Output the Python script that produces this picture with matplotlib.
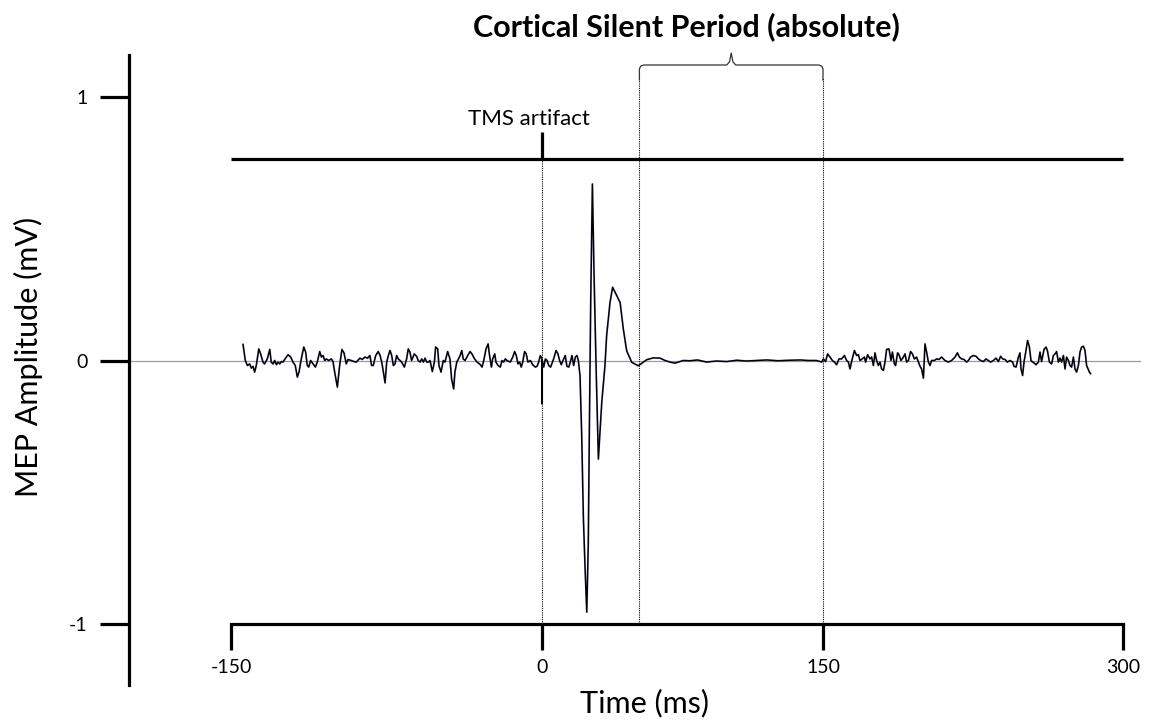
import numpy as np
import matplotlib
matplotlib.use("Agg")
import matplotlib.pyplot as plt
from matplotlib.ticker import NullLocator

plt.rcParams['font.family'] = ['Lato', 'DejaVu Sans']

# ---------------- data (time in ms, amplitude in mV) ----------------
x_ticks = [-150, 0, 150, 300]
x_tick_labels = ["-150", "0", "150", "300"]
y_ticks = [-1, 0, 1]
y_tick_labels = ["-1", "0", "1"]

tms_time = 0.0          # TMS pulse
csp_start = 52.0        # end of MEP / start of silent period
csp_end = 150.0         # return of EMG activity

pre_stim = [
    (-144.2, 0.061), (-143.1, 0.000), (-142.1, -0.019), (-141.0, -0.013), (-140.2, -0.029),
    (-139.4, -0.022), (-138.6, -0.044), (-137.8, -0.019), (-136.6, 0.044), (-135.7, 0.025),
    (-134.6, -0.006), (-133.8, -0.013), (-132.5, 0.006), (-131.3, 0.042), (-130.6, -0.006),
    (-129.7, -0.013), (-128.9, 0.000), (-128.1, -0.016), (-127.3, -0.006), (-126.5, -0.013),
    (-125.7, -0.004), (-124.9, -0.006), (-124.1, 0.004), (-122.5, 0.022), (-121.2, 0.013),
    (-120.1, -0.006), (-119.0, -0.019), (-118.0, -0.063), (-117.2, -0.044), (-116.1, 0.006),
    (-114.9, 0.051), (-114.0, 0.032), (-113.2, -0.019), (-112.5, -0.025), (-111.6, 0.000),
    (-110.4, -0.013), (-109.3, -0.025), (-108.4, -0.006), (-107.2, 0.034), (-106.4, 0.013),
    (-105.6, 0.019), (-104.8, 0.000), (-104.0, 0.006), (-102.9, 0.000), (-101.6, 0.006),
    (-100.8, -0.004), (-100.0, -0.044), (-98.7, -0.101), (-97.6, -0.019), (-96.5, 0.042),
    (-95.5, 0.029), (-94.4, -0.013), (-93.6, 0.004), (-92.0, 0.000), (-90.7, -0.004),
    (-89.6, -0.006), (-88.9, 0.000), (-87.8, 0.009), (-86.7, 0.004), (-85.4, 0.013),
    (-84.1, 0.009), (-83.0, 0.019), (-82.2, -0.019), (-81.4, -0.019), (-80.2, 0.019),
    (-79.0, 0.034), (-78.1, 0.019), (-77.3, -0.006), (-76.5, -0.044), (-75.7, -0.085),
    (-74.9, -0.006), (-74.1, 0.019), (-73.3, 0.038), (-72.5, 0.019), (-71.7, -0.019),
    (-70.9, -0.013), (-70.1, 0.019), (-69.3, 0.006), (-67.7, -0.006), (-66.4, -0.025),
    (-65.3, 0.006), (-64.5, 0.044), (-63.7, 0.032), (-62.9, 0.000), (-61.6, 0.025),
    (-60.5, 0.016), (-59.7, 0.000), (-58.8, -0.006), (-58.0, 0.006), (-57.2, -0.006),
    (-56.4, 0.009), (-55.6, -0.006), (-54.8, -0.006), (-54.0, 0.000), (-52.9, -0.042),
    (-51.9, -0.006), (-51.3, 0.051), (-50.3, 0.044), (-49.7, -0.019), (-48.7, -0.044),
    (-47.6, 0.000), (-46.8, -0.006), (-45.5, 0.034), (-44.4, 0.006), (-43.6, -0.070),
    (-42.6, -0.108), (-42.0, -0.044), (-41.1, -0.006), (-40.4, 0.004), (-39.5, 0.019),
    (-38.7, 0.038), (-38.0, 0.006), (-37.1, 0.000), (-35.8, 0.019), (-34.7, 0.034),
    (-33.8, 0.025), (-32.5, 0.006), (-31.3, -0.006), (-29.7, -0.016), (-28.9, -0.025),
    (-28.1, 0.000), (-27.0, 0.044), (-26.0, 0.063), (-25.4, 0.025), (-24.4, -0.025),
    (-23.8, 0.006), (-22.8, 0.025), (-22.2, -0.006), (-21.2, -0.019), (-20.1, -0.025),
    (-19.3, 0.000), (-18.5, -0.006), (-17.7, 0.006), (-16.9, 0.000), (-15.3, -0.006),
    (-14.1, 0.013), (-13.2, 0.034), (-12.4, 0.019), (-11.6, -0.013), (-10.8, -0.006),
    (-10.0, -0.025), (-9.3, -0.006), (-8.4, 0.034), (-7.6, 0.025), (-6.8, -0.006),
    (-5.6, 0.000), (-4.5, -0.016), (-3.2, -0.025), (-2.4, -0.022), (-1.6, -0.006),
    (-0.8, 0.019), (0.0, 0.006),
]

artifact = [(0.0, -0.165), (0.1, 0.000)]

early_post = [
    (0.9, -0.025), (1.8, 0.006), (2.7, 0.000), (3.6, -0.019), (4.6, -0.025), (6.2, 0.006),
    (7.5, 0.038), (8.5, 0.025), (9.4, 0.000), (10.3, -0.016), (11.2, 0.000), (12.4, 0.019),
    (13.3, -0.022), (14.3, -0.025), (15.1, -0.006), (16.0, 0.019), (16.9, -0.019),
    (17.8, 0.013), (18.7, 0.019), (19.4, 0.000),
]

mep = [
    (20.3, -0.058), (21.2, -0.285), (22.1, -0.60), (23.0, -0.79), (23.9, -0.955),
    (24.7, -0.70), (25.3, -0.25), (26.0, 0.22), (26.9, 0.67), (27.8, 0.32), (28.9, -0.032),
    (30.1, -0.374), (31.9, -0.159), (33.6, -0.02), (34.5, 0.094), (36.3, 0.22),
    (37.7, 0.278), (39.9, 0.246), (41.7, 0.22), (43.4, 0.12), (45.2, 0.037),
    (47.9, -0.007), (51.4, -0.02),
]

silent = [
    (55.9, 0.003), (59.4, 0.010), (63.0, 0.009), (65.7, 0.000), (68.3, -0.006),
    (71.0, -0.010), (72.8, -0.006), (75.4, 0.000), (79.0, -0.001), (83.0, 0.002),
    (87.9, -0.006), (93.0, -0.002), (98.6, -0.004), (104.0, 0.001), (109.0, -0.002),
    (114.6, 0.000), (120.0, 0.002), (126.0, -0.001), (132.4, 0.001), (138.0, 0.002),
    (142.0, 0.000), (146.6, 0.000), (149.3, -0.006),
]

post_stim = [
    (150.2, 0.006), (151.3, -0.004), (152.3, 0.025), (153.5, 0.013), (154.7, 0.000),
    (155.7, -0.006), (156.8, -0.016), (158.0, 0.006), (159.3, 0.006), (160.7, 0.019),
    (161.8, 0.000), (162.7, -0.006), (163.5, -0.032), (164.3, -0.004), (165.7, 0.038),
    (166.8, 0.019), (167.7, 0.022), (168.5, 0.000), (169.3, 0.004), (170.7, 0.013),
    (171.3, -0.006), (172.3, 0.022), (173.5, 0.006), (174.3, 0.013), (175.2, -0.019),
    (176.0, 0.029), (176.8, 0.000), (177.7, -0.019), (178.5, -0.006), (179.3, -0.032),
    (180.2, -0.038), (181.0, -0.006), (181.8, 0.042), (183.0, 0.044), (184.0, 0.000),
    (184.7, 0.032), (185.7, -0.013), (186.3, -0.019), (187.3, 0.029), (188.0, 0.022),
    (189.0, 0.000), (190.2, 0.013), (191.0, 0.025), (191.8, -0.006), (192.7, 0.000),
    (193.8, 0.034), (194.7, 0.025), (195.7, 0.006), (196.8, 0.013), (197.7, -0.006),
    (198.5, -0.022), (199.3, -0.032), (200.2, -0.067), (201.0, 0.063), (201.8, 0.032),
    (202.7, -0.006), (203.5, -0.019), (204.3, 0.000), (205.7, 0.000), (206.8, 0.006),
    (208.0, 0.004), (209.3, 0.013), (211.0, 0.000), (212.7, -0.006), (214.3, 0.000),
    (216.0, 0.013), (217.2, 0.029), (218.2, 0.013), (219.3, 0.006), (220.5, 0.004),
    (221.8, -0.006), (222.7, 0.000), (223.8, 0.013), (225.2, 0.019), (226.5, 0.016),
    (227.7, 0.006), (228.8, 0.000), (230.2, -0.004), (231.5, 0.006), (232.7, 0.000),
    (233.8, -0.006), (235.2, 0.000), (236.5, 0.009), (237.7, -0.004), (238.8, 0.016),
    (239.8, 0.006), (241.0, 0.004), (242.2, -0.006), (243.5, 0.000), (244.8, -0.006),
    (245.5, -0.022), (246.5, -0.025), (247.7, 0.013), (248.5, 0.029), (249.0, -0.032),
    (249.8, -0.057), (250.5, -0.006), (251.5, 0.038), (252.3, 0.076), (253.2, 0.051),
    (254.0, 0.000), (254.8, -0.006), (255.5, -0.009), (256.5, -0.016), (257.7, -0.006),
    (258.5, 0.032), (259.3, -0.004), (260.5, 0.042), (261.5, 0.051), (262.2, 0.038),
    (263.2, -0.006), (264.3, -0.013), (265.2, 0.019), (266.0, 0.025), (266.8, 0.034),
    (267.7, -0.006), (268.5, 0.009), (269.3, -0.006), (270.2, 0.019), (271.0, -0.032),
    (271.8, 0.013), (272.7, 0.000), (273.5, -0.019), (274.3, -0.025), (275.2, 0.013),
    (276.0, -0.032), (276.8, -0.044), (277.7, -0.019), (278.5, 0.032), (279.3, 0.051),
    (280.2, 0.054), (281.0, 0.038), (281.8, -0.019), (283.2, -0.044), (283.8, -0.050),
]

# ---------------- layout: the hand-drawn time axis is piecewise linear ----------------
W, H = 1152, 722
TICK_PX = np.array([231.0, 542.0, 823.0, 1123.0])   # pixel column of each x tick
XT = np.array(x_ticks, dtype=float)
s_lo = (TICK_PX[1] - TICK_PX[0]) / (XT[1] - XT[0])
s_hi = (TICK_PX[-1] - TICK_PX[-2]) / (XT[-1] - XT[-2])


def fwd(x):
    x = np.asarray(x, dtype=float)
    y = np.interp(x, XT, TICK_PX)
    y = np.where(x < XT[0], TICK_PX[0] + (x - XT[0]) * s_lo, y)
    y = np.where(x > XT[-1], TICK_PX[-1] + (x - XT[-1]) * s_hi, y)
    return y


def inv(p):
    p = np.asarray(p, dtype=float)
    x = np.interp(p, TICK_PX, XT)
    x = np.where(p < TICK_PX[0], XT[0] + (p - TICK_PX[0]) / s_lo, x)
    x = np.where(p > TICK_PX[-1], XT[-1] + (p - TICK_PX[-1]) / s_hi, x)
    return x


Y0_PX, PX_PER_MV = 360.5, 263.5


def yv(py):   # pixel row -> mV
    return (Y0_PX - py) / PX_PER_MV


fig = plt.figure(figsize=(W / 100, H / 100), dpi=100)
ax_left_px, ax_bottom_px = 129, 685
ax = fig.add_axes([ax_left_px / W, (H - ax_bottom_px) / H,
                   1 - ax_left_px / W, ax_bottom_px / H])
ax.set_xscale('function', functions=(fwd, inv))
ax.set_xlim(float(inv(ax_left_px)), float(inv(W)))
ax.set_ylim(yv(ax_bottom_px), yv(0))
ax.patch.set_alpha(0)

# spines
for s in ('top', 'right'):
    ax.spines[s].set_visible(False)
ax.spines['left'].set_linewidth(2.3)
ax.spines['left'].set_bounds(yv(ax_bottom_px), yv(55))
ax.spines['bottom'].set_linewidth(2.3)
ax.spines['bottom'].set_position(('data', -1.0))
ax.spines['bottom'].set_bounds(x_ticks[0], x_ticks[-1])

ax.set_xticks(x_ticks)
ax.set_xticklabels(x_tick_labels)
ax.set_yticks(y_ticks)
ax.set_yticklabels(y_tick_labels)
ax.xaxis.set_minor_locator(NullLocator())
ax.yaxis.set_minor_locator(NullLocator())
ax.tick_params(axis='x', direction='out', length=19, width=2.3, pad=6, labelsize=14)
ax.tick_params(axis='y', direction='out', length=21, width=2.3, pad=9, labelsize=14)

# zero line
ax.axhline(0, xmin=0, xmax=(1140 - ax_left_px) / (W - ax_left_px),
           color='#9c9c9c', lw=0.9, zorder=1)

# top reference bar and TMS marker
bar_level = yv(159)
ax.hlines(bar_level, x_ticks[0], x_ticks[-1], color='black', lw=2.3, zorder=3)
ax.vlines(tms_time, bar_level, yv(132), color='black', lw=2.3, zorder=3)
ax.text(-6.3, yv(119), "TMS artifact", ha='center', va='center', fontsize=16)

# dotted markers
dot = dict(color='black', lw=0.8, linestyle=(0, (1, 1)), zorder=2)
ax.vlines(tms_time, -1.0, bar_level, **dot)
ax.vlines([csp_start, csp_end], -1.0, yv(78), **dot)

# bracket above the silent period
top = yv(65)
mid = 0.5 * (csp_start + csp_end)
rx, ry = 2.2, 0.015
bx = [csp_start, csp_start, csp_start + 0.3 * rx, csp_start + rx,
      mid - 2.4, mid - 0.9, mid, mid + 0.9, mid + 2.4,
      csp_end - rx, csp_end - 0.3 * rx, csp_end, csp_end]
by = [yv(80), top - ry, top - 0.3 * ry, top,
      top, top + 0.012, yv(53), top + 0.012, top,
      top, top - 0.3 * ry, top - ry, yv(80)]
ax.plot(bx, by, color='#333333', lw=0.9, zorder=3, clip_on=False)

ax.text(77, yv(27), "Cortical Silent Period (absolute)", ha='center', va='center',
        fontsize=22, fontweight='bold', clip_on=False)

# EMG trace
segments = pre_stim + artifact + early_post + mep + silent + post_stim
t = np.array([p[0] for p in segments])
v = np.array([p[1] for p in segments])
ax.plot(t, v, color='#7a5cff', lw=1.5, alpha=0.3, zorder=4)
ax.plot(t, v, color='black', lw=1.1, zorder=5)

# axis titles
fig.text(645 / W, 1 - 703 / H, "Time (ms)", ha='center', va='center', fontsize=22)
fig.text(28 / W, 1 - 357 / H, "MEP Amplitude (mV)", ha='center', va='center',
         rotation=90, fontsize=22)

fig.savefig("out.png", dpi=100)
